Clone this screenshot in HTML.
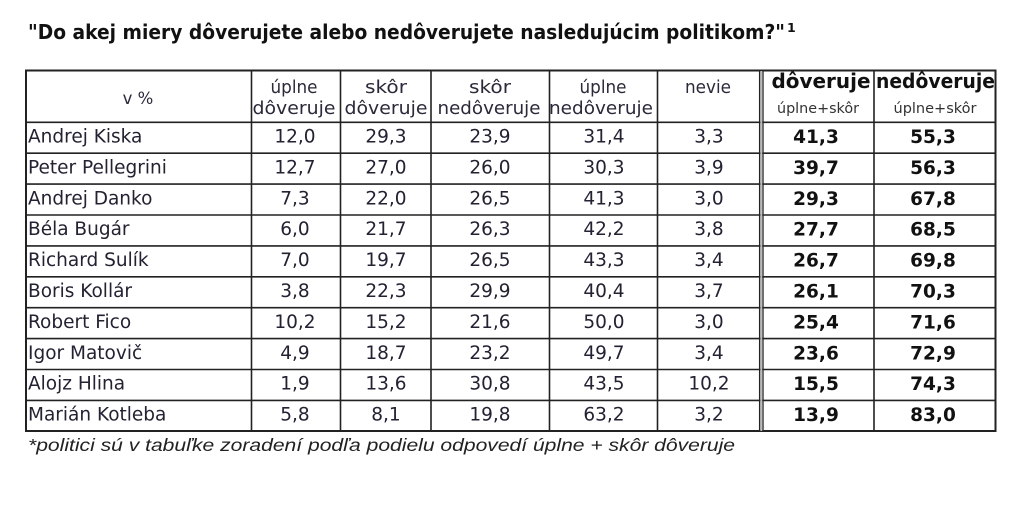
<!DOCTYPE html>
<html><head><meta charset="utf-8">
<style>
html,body{margin:0;padding:0;background:#fff;}
svg{display:block;}
.t{font-family:"DejaVu Sans","Liberation Sans",sans-serif;}
.n{font-size:18.5px;fill:#222232;}
.b{font-size:18.5px;font-weight:bold;fill:#111;}
.h{font-size:17.5px;fill:#2a2a3a;}
</style></head><body>
<svg width="1024" height="512" viewBox="0 0 1024 512" xmlns="http://www.w3.org/2000/svg">
<rect width="1024" height="512" fill="#fff"/>
<text class="t" x="28" y="39" font-size="20.5" font-weight="bold" fill="#111" textLength="757" lengthAdjust="spacingAndGlyphs">"Do akej miery dôverujete alebo nedôverujete nasledujúcim politikom?"</text>
<text class="t" x="787" y="32" font-size="12.5" font-weight="bold" fill="#111">1</text>

<!-- grid -->
<g stroke="#222" stroke-width="1.6" fill="none">
<rect x="26" y="70.5" width="969.5" height="360.5" stroke-width="2"/>
<line x1="26" y1="122.3" x2="995.5" y2="122.3"/>
<line x1="26" y1="153.2" x2="995.5" y2="153.2"/>
<line x1="26" y1="184.1" x2="995.5" y2="184.1"/>
<line x1="26" y1="215" x2="995.5" y2="215"/>
<line x1="26" y1="245.9" x2="995.5" y2="245.9"/>
<line x1="26" y1="276.8" x2="995.5" y2="276.8"/>
<line x1="26" y1="307.7" x2="995.5" y2="307.7"/>
<line x1="26" y1="338.6" x2="995.5" y2="338.6"/>
<line x1="26" y1="369.5" x2="995.5" y2="369.5"/>
<line x1="26" y1="400.4" x2="995.5" y2="400.4"/>
<line x1="251.5" y1="70.5" x2="251.5" y2="431"/>
<line x1="340.5" y1="70.5" x2="340.5" y2="431"/>
<line x1="431" y1="70.5" x2="431" y2="431"/>
<line x1="549.5" y1="70.5" x2="549.5" y2="431"/>
<line x1="657.5" y1="70.5" x2="657.5" y2="431"/>
<line x1="759.6" y1="70.5" x2="759.6" y2="431" stroke-width="1.3"/>
<line x1="763" y1="70.5" x2="763" y2="431" stroke-width="1.3"/>
<line x1="874" y1="70.5" x2="874" y2="431"/>
</g>
<rect x="760.4" y="71" width="1.8" height="360" fill="#bbb"/>

<!-- header -->
<g class="t h" text-anchor="middle">
<text x="138" y="104" font-size="16.5">v %</text>
<text x="294" y="93" textLength="47" lengthAdjust="spacingAndGlyphs">úplne</text>
<text x="294" y="114" textLength="83" lengthAdjust="spacingAndGlyphs">dôveruje</text>
<text x="386" y="93" textLength="42" lengthAdjust="spacingAndGlyphs">skôr</text>
<text x="386" y="114" textLength="83" lengthAdjust="spacingAndGlyphs">dôveruje</text>
<text x="490" y="93" textLength="42" lengthAdjust="spacingAndGlyphs">skôr</text>
<text x="489" y="114" textLength="103" lengthAdjust="spacingAndGlyphs">nedôveruje</text>
<text x="603" y="93" textLength="47" lengthAdjust="spacingAndGlyphs">úplne</text>
<text x="601" y="114" textLength="104" lengthAdjust="spacingAndGlyphs">nedôveruje</text>
<text x="708" y="93" textLength="46" lengthAdjust="spacingAndGlyphs">nevie</text>
</g>
<g class="t" text-anchor="middle">
<text x="821" y="88" font-size="20" font-weight="bold" fill="#111" textLength="99" lengthAdjust="spacingAndGlyphs">dôveruje</text>
<text x="935.5" y="88" font-size="20" font-weight="bold" fill="#111" textLength="119" lengthAdjust="spacingAndGlyphs">nedôveruje</text>
<text x="818" y="113" font-size="14" fill="#333" textLength="82" lengthAdjust="spacingAndGlyphs">úplne+skôr</text>
<text x="935" y="113" font-size="14" fill="#333" textLength="83" lengthAdjust="spacingAndGlyphs">úplne+skôr</text>
</g>

<!-- names -->
<g class="t n">
<text x="28" y="142.5">Andrej Kiska</text>
<text x="28" y="173.4">Peter Pellegrini</text>
<text x="28" y="204.3">Andrej Danko</text>
<text x="28" y="235.2">Béla Bugár</text>
<text x="28" y="266.1">Richard Sulík</text>
<text x="28" y="297">Boris Kollár</text>
<text x="28" y="327.9">Robert Fico</text>
<text x="28" y="358.8">Igor Matovič</text>
<text x="28" y="389.7">Alojz Hlina</text>
<text x="28" y="420.6">Marián Kotleba</text>
</g>

<!-- numeric -->
<g class="t n" text-anchor="middle">
<text x="295" y="142.5">12,0</text><text x="386" y="142.5">29,3</text><text x="490" y="142.5">23,9</text><text x="604" y="142.5">31,4</text><text x="709" y="142.5">3,3</text>
<text x="295" y="173.4">12,7</text><text x="386" y="173.4">27,0</text><text x="490" y="173.4">26,0</text><text x="604" y="173.4">30,3</text><text x="709" y="173.4">3,9</text>
<text x="295" y="204.3">7,3</text><text x="386" y="204.3">22,0</text><text x="490" y="204.3">26,5</text><text x="604" y="204.3">41,3</text><text x="709" y="204.3">3,0</text>
<text x="295" y="235.2">6,0</text><text x="386" y="235.2">21,7</text><text x="490" y="235.2">26,3</text><text x="604" y="235.2">42,2</text><text x="709" y="235.2">3,8</text>
<text x="295" y="266.1">7,0</text><text x="386" y="266.1">19,7</text><text x="490" y="266.1">26,5</text><text x="604" y="266.1">43,3</text><text x="709" y="266.1">3,4</text>
<text x="295" y="297">3,8</text><text x="386" y="297">22,3</text><text x="490" y="297">29,9</text><text x="604" y="297">40,4</text><text x="709" y="297">3,7</text>
<text x="295" y="327.9">10,2</text><text x="386" y="327.9">15,2</text><text x="490" y="327.9">21,6</text><text x="604" y="327.9">50,0</text><text x="709" y="327.9">3,0</text>
<text x="295" y="358.8">4,9</text><text x="386" y="358.8">18,7</text><text x="490" y="358.8">23,2</text><text x="604" y="358.8">49,7</text><text x="709" y="358.8">3,4</text>
<text x="295" y="389.7">1,9</text><text x="386" y="389.7">13,6</text><text x="490" y="389.7">30,8</text><text x="604" y="389.7">43,5</text><text x="709" y="389.7">10,2</text>
<text x="295" y="420.6">5,8</text><text x="386" y="420.6">8,1</text><text x="490" y="420.6">19,8</text><text x="604" y="420.6">63,2</text><text x="709" y="420.6">3,2</text>
</g>
<g class="t b" text-anchor="middle">
<text x="816" y="143">41,3</text><text x="933" y="143">55,3</text>
<text x="816" y="173.9">39,7</text><text x="933" y="173.9">56,3</text>
<text x="816" y="204.8">29,3</text><text x="933" y="204.8">67,8</text>
<text x="816" y="235.7">27,7</text><text x="933" y="235.7">68,5</text>
<text x="816" y="266.6">26,7</text><text x="933" y="266.6">69,8</text>
<text x="816" y="297.5">26,1</text><text x="933" y="297.5">70,3</text>
<text x="816" y="328.4">25,4</text><text x="933" y="328.4">71,6</text>
<text x="816" y="359.3">23,6</text><text x="933" y="359.3">72,9</text>
<text x="816" y="390.2">15,5</text><text x="933" y="390.2">74,3</text>
<text x="816" y="421.1">13,9</text><text x="933" y="421.1">83,0</text>
</g>

<text x="28" y="451" font-family="Liberation Sans, sans-serif" font-style="italic" font-size="17.5" fill="#222" textLength="707" lengthAdjust="spacingAndGlyphs">*politici sú v tabuľke zoradení podľa podielu odpovedí úplne + skôr dôveruje</text>
</svg>
</body></html>
